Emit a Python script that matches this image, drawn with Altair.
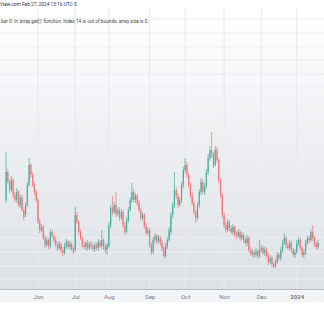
import altair as alt
import pandas as pd

# ---- data (price units are arbitrary, axis hidden) ----
open_ = [100,128,118,110,120,105,100,108,95,103,
         90,85,95,115,135,125,115,108,100,78,
         70,73,62,55,60,54,68,64,60,55,
         52,56,50,47,54,58,53,56,51,50,
         85,78,68,62,55,53,57,52,56,54,
         51,55,52,58,54,60,53,50,54,75,
         92,88,95,86,90,82,88,75,68,80,
         90,100,108,100,104,97,90,82,85,74,
         67,70,55,48,60,64,59,62,57,52,
         44,54,60,68,85,95,110,104,95,100,
         115,130,135,125,115,105,97,88,82,95,
         108,118,108,114,128,142,150,145,135,150,
         140,120,105,85,75,70,78,72,68,73,
         66,64,68,62,65,60,57,62,50,46,
         48,45,49,44,50,52,47,50,44,38,
         42,36,34,38,45,42,50,57,62,55,
         52,57,50,45,48,57,60,52,45,48,
         57,62,60,68,62,56,53]

close = [128,118,110,120,105,100,108,95,103,90,
         83,95,115,135,125,115,108,100,78,70,
         73,62,55,60,54,68,64,60,55,52,
         56,50,47,54,58,53,56,51,48,85,
         78,68,62,55,53,57,52,56,54,51,
         55,52,58,54,60,53,50,55,75,92,
         88,95,86,90,82,88,75,68,80,90,
         100,108,100,104,97,90,82,85,74,67,
         70,55,48,60,64,59,62,57,52,44,
         54,60,70,85,95,110,104,95,100,115,
         130,135,125,115,105,97,88,82,95,108,
         118,108,114,128,142,150,145,135,150,140,
         120,105,85,75,70,78,72,68,73,66,
         64,68,62,65,60,57,62,50,46,48,
         45,49,44,50,52,47,50,44,38,42,
         36,34,38,45,42,50,57,62,55,52,
         57,50,45,48,57,60,52,45,48,57,
         62,60,68,62,56,53,57]

high = [148,131,121,124,122,108,112,110,106,105,
        93,98,118,142,137,128,118,110,102,81,
        76,75,65,63,62,71,70,66,63,58,
        59,58,53,57,61,60,59,58,53,93,
        88,80,71,64,58,59,60,58,59,56,
        58,57,61,60,70,62,56,57,78,95,
        104,98,108,92,93,91,90,78,83,93,
        103,117,111,107,106,100,92,88,87,77,
        73,72,57,63,67,66,65,64,60,54,
        57,63,73,88,98,128,113,107,103,118,
        133,142,138,127,118,108,99,90,98,111,
        122,121,117,131,146,154,168,148,154,153,
        142,122,107,88,78,81,80,75,76,75,
        69,71,70,68,67,63,65,64,53,51,
        50,52,51,60,55,54,53,52,47,45,
        44,38,41,48,47,53,60,67,64,58,
        60,59,52,51,60,63,62,54,51,60,
        65,64,71,75,64,58,60]

low = [97,116,107,108,102,98,97,93,92,88,
       80,83,93,113,122,113,105,98,76,67,
       68,60,52,53,51,52,62,57,53,49,
       50,47,44,45,51,51,50,49,46,48,
       76,65,60,52,51,50,49,50,51,49,
       48,50,49,52,51,50,47,45,52,72,
       85,86,83,84,79,80,72,65,66,77,
       88,97,98,97,94,88,79,80,71,65,
       64,52,45,46,57,56,57,54,49,42,
       42,51,58,65,82,92,101,92,93,97,
       112,127,122,112,102,94,85,77,80,92,
       105,106,105,111,125,139,142,132,133,137,
       117,102,82,72,67,68,69,66,65,63,
       61,62,59,60,57,55,54,47,44,43,
       42,43,41,42,47,45,44,42,35,36,
       33,32,32,36,40,39,47,55,52,50,
       49,47,43,42,46,54,49,43,42,45,
       55,57,58,59,53,51,50]

month_ticks = [18, 39, 58, 81, 101, 123, 144, 164]
month_labels = ["Jun", "Jul", "Aug", "Sep", "Oct", "Nov", "Dec", "2024"]
price_grid = [281, 267, 253, 240, 226, 212, 199, 185, 171, 158, 144,
              130, 116, 103, 89, 75, 62, 48, 34, 21]

header_text = "View.com  Feb 27, 2024 13:16 UTC-5"
error_text = "bar 0: In 'array.get()' function. Index 14 is out of bounds, array size is 0."

# ---- frames ----
df = pd.DataFrame({"i": list(range(len(close))), "open": open_, "high": high,
                   "low": low, "close": close})
df["dir"] = ["up" if c >= o else "down" for o, c in zip(open_, close)]
vgrid = pd.DataFrame({"i": month_ticks})
hgrid = pd.DataFrame({"p": price_grid})
one = pd.DataFrame({"a": [0]})

W, H = 324, 279
xscale = alt.Scale(domain=[-0.6, 176.55], nice=False, zero=False)
yscale = alt.Scale(domain=[11, 290], nice=False, zero=False)

ticks_js = "[" + ",".join(str(t) for t in month_ticks) + "]"
labels_js = "[" + ",".join("'" + s + "'" for s in month_labels) + "]"
xaxis = alt.Axis(
    values=month_ticks,
    labelExpr=f"{labels_js}[indexof({ticks_js}, datum.value)]",
    grid=False, ticks=False, domain=True, domainColor="#b8bcc4", domainWidth=1,
    labelFontSize=6, labelColor="#787b86", labelFont="Roboto", labelPadding=4,
    labelFontWeight={"condition": {"test": "datum.value == 164", "value": "bold"}, "value": "normal"},
    title=None, zindex=1,
)
X = alt.X("i:Q", scale=xscale, axis=xaxis)

bg = alt.Chart(one).mark_rect(
    color=alt.LinearGradient(
        gradient="linear", x1=0, x2=0, y1=0, y2=1,
        stops=[alt.GradientStop(color="#ffffff", offset=0),
               alt.GradientStop(color="#eef0f2", offset=0.45),
               alt.GradientStop(color="#dde1e6", offset=1)])
).encode(x=alt.value(0), x2=alt.value(W), y=alt.value(0), y2=alt.value(H))

band = alt.Chart(one).mark_rect(color="#f3f4f6").encode(
    x=alt.value(0), x2=alt.value(W), y=alt.value(H), y2=alt.value(H + 13))

vlines = alt.Chart(vgrid).mark_rule(color="#e6e9ee", strokeWidth=1).encode(
    x=X, y=alt.value(-2), y2=alt.value(H))

hlines = alt.Chart(hgrid).mark_rule(color="#eceef2", strokeWidth=1).encode(
    y=alt.Y("p:Q", scale=yscale, axis=None), x=alt.value(0), x2=alt.value(W))

color = alt.Color("dir:N", scale=alt.Scale(domain=["down", "up"],
                                           range=["#ee7275", "#43ad9c"]), legend=None)

wicks = alt.Chart(df).mark_rule(strokeWidth=0.7).encode(
    x=X, y=alt.Y("low:Q", scale=yscale, axis=None), y2="high:Q", color=color)

bodies = alt.Chart(df).mark_bar(size=1.15).encode(
    x=X, y=alt.Y("open:Q", scale=yscale, axis=None), y2="close:Q", color=color)

t1 = alt.Chart(one).mark_text(align="left", baseline="middle", font="Roboto",
                              fontSize=4.8, color="#2a2e39", text=header_text).encode(
    x=alt.value(0), y=alt.value(-5))
t2 = alt.Chart(one).mark_text(align="left", baseline="middle", font="Roboto",
                              fontSize=4.75, color="#434651", text=error_text).encode(
    x=alt.value(1), y=alt.value(12))

chart = alt.layer(bg, band, hlines, vlines, wicks, bodies, t1, t2).properties(
    width=W, height=H, autosize="none",
    padding={"left": 0, "right": 0, "top": 10, "bottom": 25},
    background="white",
).configure_view(stroke=None)

chart.save("out.html", embed_options={"renderer": "svg", "actions": False})
